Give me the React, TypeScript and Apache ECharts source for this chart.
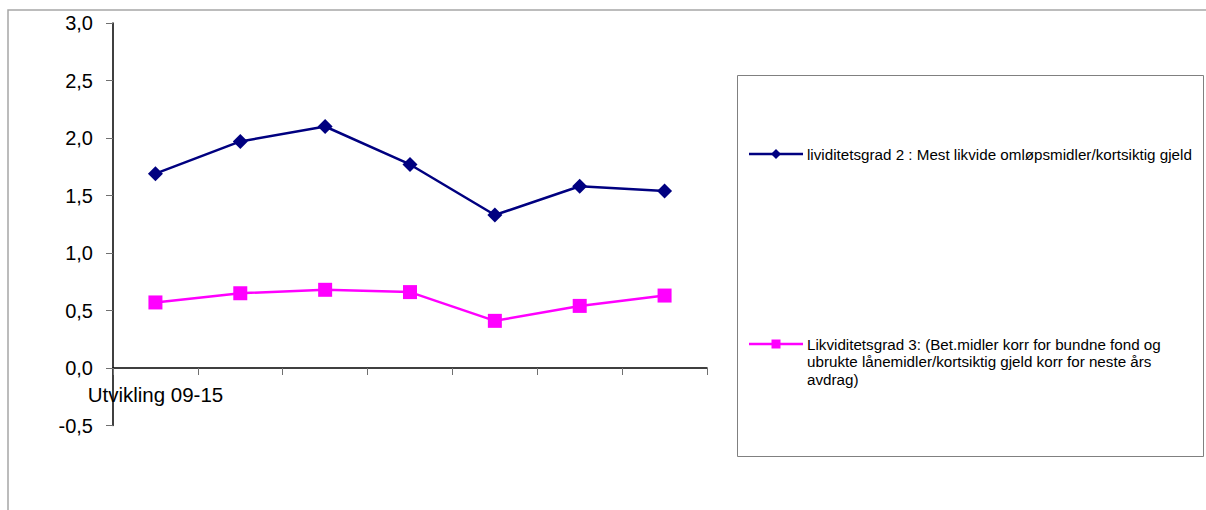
import React, { useEffect, useRef } from "react";
import * as echarts from "echarts";

const categories = ["Utvikling 09-15", "", "", "", "", "", ""];
const seriesNames = [
  "lividitetsgrad 2 : Mest likvide omløpsmidler/kortsiktig gjeld",
  "Likviditetsgrad 3: (Bet.midler korr for bundne fond og\nubrukte lånemidler/kortsiktig gjeld korr for neste års\navdrag)",
];
const likviditetsgrad2 = [1.69, 1.97, 2.1, 1.77, 1.33, 1.58, 1.54];
const likviditetsgrad3 = [0.57, 0.65, 0.68, 0.66, 0.41, 0.54, 0.63];
const yMin = -0.5;
const yMax = 3.0;
const yInterval = 0.5;

const FONT = "'Liberation Sans', Arial, sans-serif";

export default function App() {
  const ref = useRef<HTMLDivElement>(null);
  useEffect(() => {
    if (!ref.current) return;
    const chart = echarts.init(ref.current, null, { renderer: "svg" });
    const legendText = { fontFamily: FONT, fontSize: 15.2, fill: "#000", lineHeight: 17.5 };
    chart.setOption({
      animation: false,
      backgroundColor: "#fff",
      grid: { left: 113, top: 23, width: 594, height: 402.5, containLabel: false },
      xAxis: {
        type: "category",
        data: categories,
        boundaryGap: true,
        offset: -57.5,
        axisLine: { onZero: false, lineStyle: { color: "#000", width: 1.5 } },
        axisTick: { show: true, length: 7, lineStyle: { color: "#707070", width: 1 } },
        axisLabel: {
          interval: 0,
          margin: 16,
          color: "#000",
          fontFamily: FONT,
          fontSize: 20.5,
        },
        splitLine: { show: false },
      },
      yAxis: {
        type: "value",
        min: yMin,
        max: yMax,
        interval: yInterval,
        axisLine: { show: true, onZero: false, lineStyle: { color: "#000", width: 1.5 } },
        axisTick: { show: true, length: 7, lineStyle: { color: "#707070", width: 1 } },
        axisLabel: {
          margin: 20,
          color: "#000",
          fontFamily: FONT,
          fontSize: 20,
          formatter: (v: number) => v.toFixed(1).replace(".", ","),
        },
        splitLine: { show: false },
      },
      series: [
        {
          name: seriesNames[0],
          type: "line",
          data: likviditetsgrad2,
          symbol: "diamond",
          symbolSize: 15,
          itemStyle: { color: "#000080" },
          lineStyle: { color: "#000080", width: 2.5 },
        },
        {
          name: seriesNames[1],
          type: "line",
          data: likviditetsgrad3,
          symbol: "rect",
          symbolSize: 14,
          itemStyle: { color: "#FF00FF" },
          lineStyle: { color: "#FF00FF", width: 2.5 },
        },
      ],
      graphic: [
        {
          type: "rect",
          shape: { x: 8, y: 10, width: 1300, height: 600 },
          style: { fill: "none", stroke: "#a6a6a6", lineWidth: 1.5 },
          silent: true,
          z: -1,
        },
        {
          type: "rect",
          shape: { x: 737.5, y: 75.5, width: 466, height: 381 },
          style: { fill: "none", stroke: "#808080", lineWidth: 1 },
        },
        {
          type: "line",
          shape: { x1: 749, y1: 154, x2: 803, y2: 154 },
          style: { stroke: "#000080", lineWidth: 2.5 },
        },
        {
          type: "polygon",
          shape: { points: [[776, 149], [781, 154], [776, 159], [771, 154]] },
          style: { fill: "#000080" },
        },
        {
          type: "text",
          x: 807,
          y: 154,
          style: { ...legendText, text: seriesNames[0], verticalAlign: "middle" },
        },
        {
          type: "line",
          shape: { x1: 749, y1: 344, x2: 803, y2: 344 },
          style: { stroke: "#FF00FF", lineWidth: 2.5 },
        },
        {
          type: "rect",
          shape: { x: 771.5, y: 339.5, width: 9, height: 9 },
          style: { fill: "#FF00FF" },
        },
        {
          type: "text",
          x: 807,
          y: 335.25,
          style: { ...legendText, text: seriesNames[1], verticalAlign: "top" },
        },
      ],
    });
    return () => chart.dispose();
  }, []);
  return (
    <div
      ref={ref}
      style={{ position: "fixed", left: 0, top: 0, width: 1206, height: 510 }}
    />
  );
}
